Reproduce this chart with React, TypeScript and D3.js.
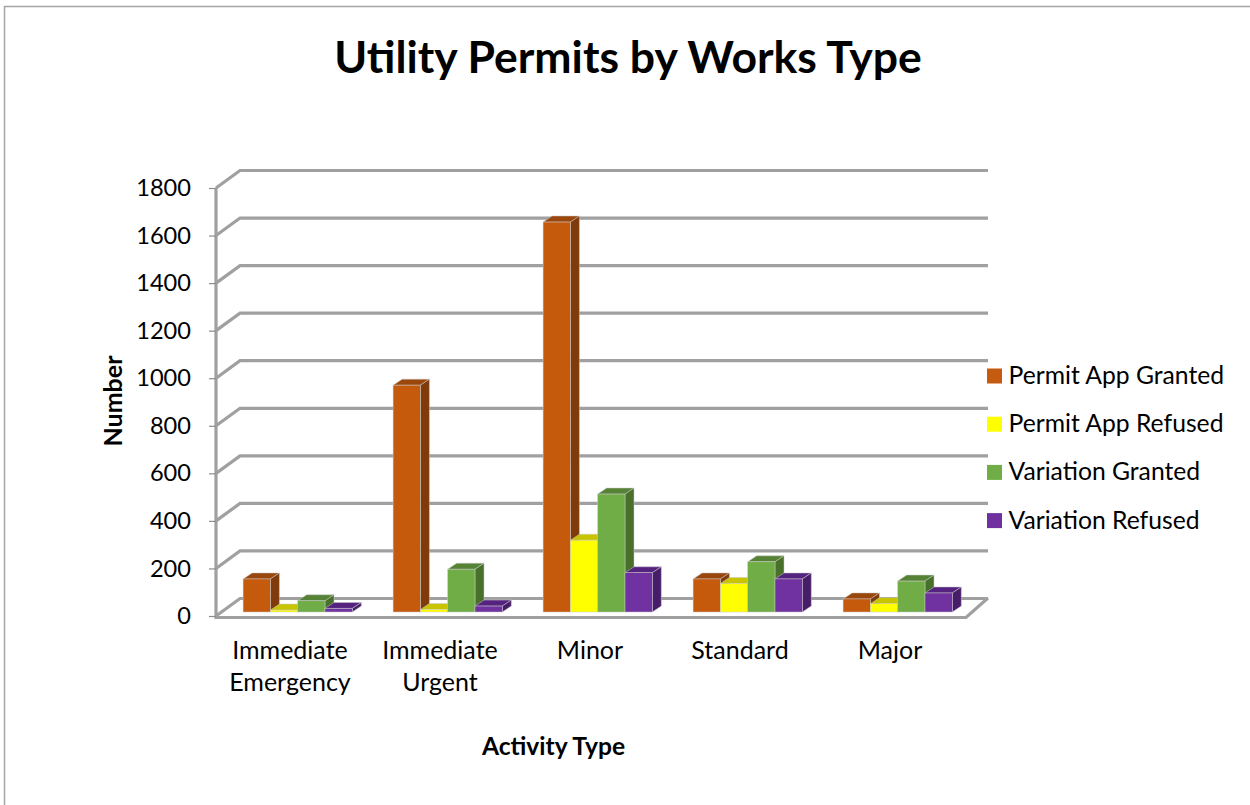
import { useEffect, useRef } from 'react';
import * as d3 from 'd3';

const categories = ['Immediate Emergency', 'Immediate Urgent', 'Minor', 'Standard', 'Major'];
const seriesNames = ['Permit App Granted', 'Permit App Refused', 'Variation Granted', 'Variation Refused'];
const permitGranted = [139, 954, 1640, 139, 55];
const permitRefused = [8, 10, 302, 120, 35];
const variationGranted = [47, 180, 496, 211, 130];
const variationRefused = [15, 25, 165, 139, 80];
const yTicks = [0, 200, 400, 600, 800, 1000, 1200, 1400, 1600, 1800];

const seriesValues = [permitGranted, permitRefused, variationGranted, variationRefused];
const frontColors = ['#C55A11', '#FFFF00', '#70AD47', '#7030A0'];
const topColors = ['#9A4609', '#C9C400', '#558235', '#552480'];
const sideColors = ['#803A08', '#B5B000', '#4A702C', '#461F69'];

const FONT = 'Lato, Carlito, Calibri, sans-serif';
const GRID = '#A0A0A0';

function App() {
  const ref = useRef<SVGSVGElement>(null);

  useEffect(() => {
    const svg = d3.select(ref.current);
    svg.selectAll('*').remove();

    const x0 = 216;
    const x1 = 966;
    const wallDx = 24;
    const wallDy = -18;
    const barDx = 9;
    const barDy = -6;
    const baseLift = 4;
    const barShift = 6.7;

    const x = d3.scaleBand().domain(categories).range([x0, x1]).paddingInner(0.272).paddingOuter(0.136);
    const inner = d3.scaleBand().domain(seriesNames).range([0, x.bandwidth()]);
    const y = d3.scaleLinear().domain([0, 1800]).range([616, 188]);

    // outer frame, only top and left edges show
    svg.append('path').attr('d', 'M1250,6.5H4.5V805').attr('fill', 'none').attr('stroke', '#A6A6A6').attr('stroke-width', 1.5);

    const defs = svg.append('defs');
    defs.append('filter').attr('id', 'soft').append('feGaussianBlur').attr('stdDeviation', 0.5);

    const chart = svg.append('g').attr('filter', 'url(#soft)');

    // walls: grid lines with the little diagonal at the left
    const grid = chart.append('g').attr('fill', 'none').attr('stroke', GRID).attr('stroke-width', 3.2);
    yTicks.forEach((t) => {
      grid.append('path').attr(
        'd',
        `M${x0},${y(t)}L${x0 + wallDx},${y(t) + wallDy + 0.5}H${x1 + 22}`
      );
    });
    grid.append('path').attr('d', `M${x0},${y(1800)}V${y(0) + 1.5}H${x1}L${x1 + 22},${y(0) + wallDy}`);

    // y axis ticks and labels
    const yAxis = d3.axisLeft(y).tickValues(yTicks).tickSize(7).tickPadding(18).tickFormat(d3.format('d'));
    const axisG = svg.append('g').attr('transform', `translate(${x0},0)`).call(yAxis);
    axisG.select('.domain').remove();
    axisG.selectAll('.tick line').attr('stroke', '#8C8C8C').attr('stroke-width', 1.2);
    axisG.selectAll('text').attr('font-family', FONT).attr('font-size', 23.6).attr('fill', '#000');

    // bars, left to right so that each one covers the side of the one before
    const bars = chart.append('g');
    categories.forEach((cat, c) => {
      const gx = (x(cat) as number) + barShift;
      seriesNames.forEach((name, s) => {
        const v = seriesValues[s][c];
        const l = gx + (inner(name) as number);
        const r = l + inner.bandwidth();
        const b = y(0) - baseLift;
        const t = y(v) - baseLift;
        const g = bars.append('g').attr('stroke', '#C8C8C8').attr('stroke-width', 0.5);
        g.append('path')
          .attr('d', `M${l},${t}L${l + barDx},${t + barDy}H${r + barDx}L${r},${t}Z`)
          .attr('fill', topColors[s]);
        g.append('path')
          .attr('d', `M${r},${t}L${r + barDx},${t + barDy}V${b + barDy}L${r},${b}Z`)
          .attr('fill', sideColors[s]);
        g.append('rect')
          .attr('x', l)
          .attr('y', t)
          .attr('width', r - l)
          .attr('height', b - t)
          .attr('fill', frontColors[s]);
      });
    });

    // category labels, wrapped on two lines where needed
    const catLabels = svg.append('g').attr('font-family', FONT).attr('font-size', 25).attr('text-anchor', 'middle').attr('fill', '#000');
    categories.forEach((cat) => {
      const cx = (x(cat) as number) + x.bandwidth() / 2;
      cat.split(' ').forEach((word, i) => {
        catLabels.append('text').attr('x', cx - 1).attr('y', 659 + i * 32).text(word);
      });
    });

    // legend
    const legend = svg.append('g').attr('font-family', FONT).attr('font-size', 24.7).attr('fill', '#000');
    seriesNames.forEach((name, i) => {
      const ly = 376 + i * 48.2;
      legend.append('rect').attr('x', 987).attr('y', ly - 7.5).attr('width', 15).attr('height', 15).attr('fill', frontColors[i]);
      legend.append('text').attr('x', 1008.5).attr('y', ly + 8).text(name);
    });

    // titles
    svg.append('text')
      .attr('x', 628)
      .attr('y', 73)
      .attr('text-anchor', 'middle')
      .attr('font-family', FONT)
      .attr('font-size', 44.5)
      .attr('font-weight', 700)
      .text('Utility Permits by Works Type');
    svg.append('text')
      .attr('x', 553.5)
      .attr('y', 755)
      .attr('text-anchor', 'middle')
      .attr('font-family', FONT)
      .attr('font-size', 24.6)
      .attr('font-weight', 700)
      .text('Activity Type');
    svg.append('text')
      .attr('transform', 'translate(122,401) rotate(-90)')
      .attr('text-anchor', 'middle')
      .attr('font-family', FONT)
      .attr('font-size', 25)
      .attr('font-weight', 700)
      .text('Number');
  }, []);

  return (
    <svg
      ref={ref}
      width={1250}
      height={805}
      style={{ position: 'absolute', left: 0, top: 0, background: '#fff' }}
    ></svg>
  );
}

export default App;
